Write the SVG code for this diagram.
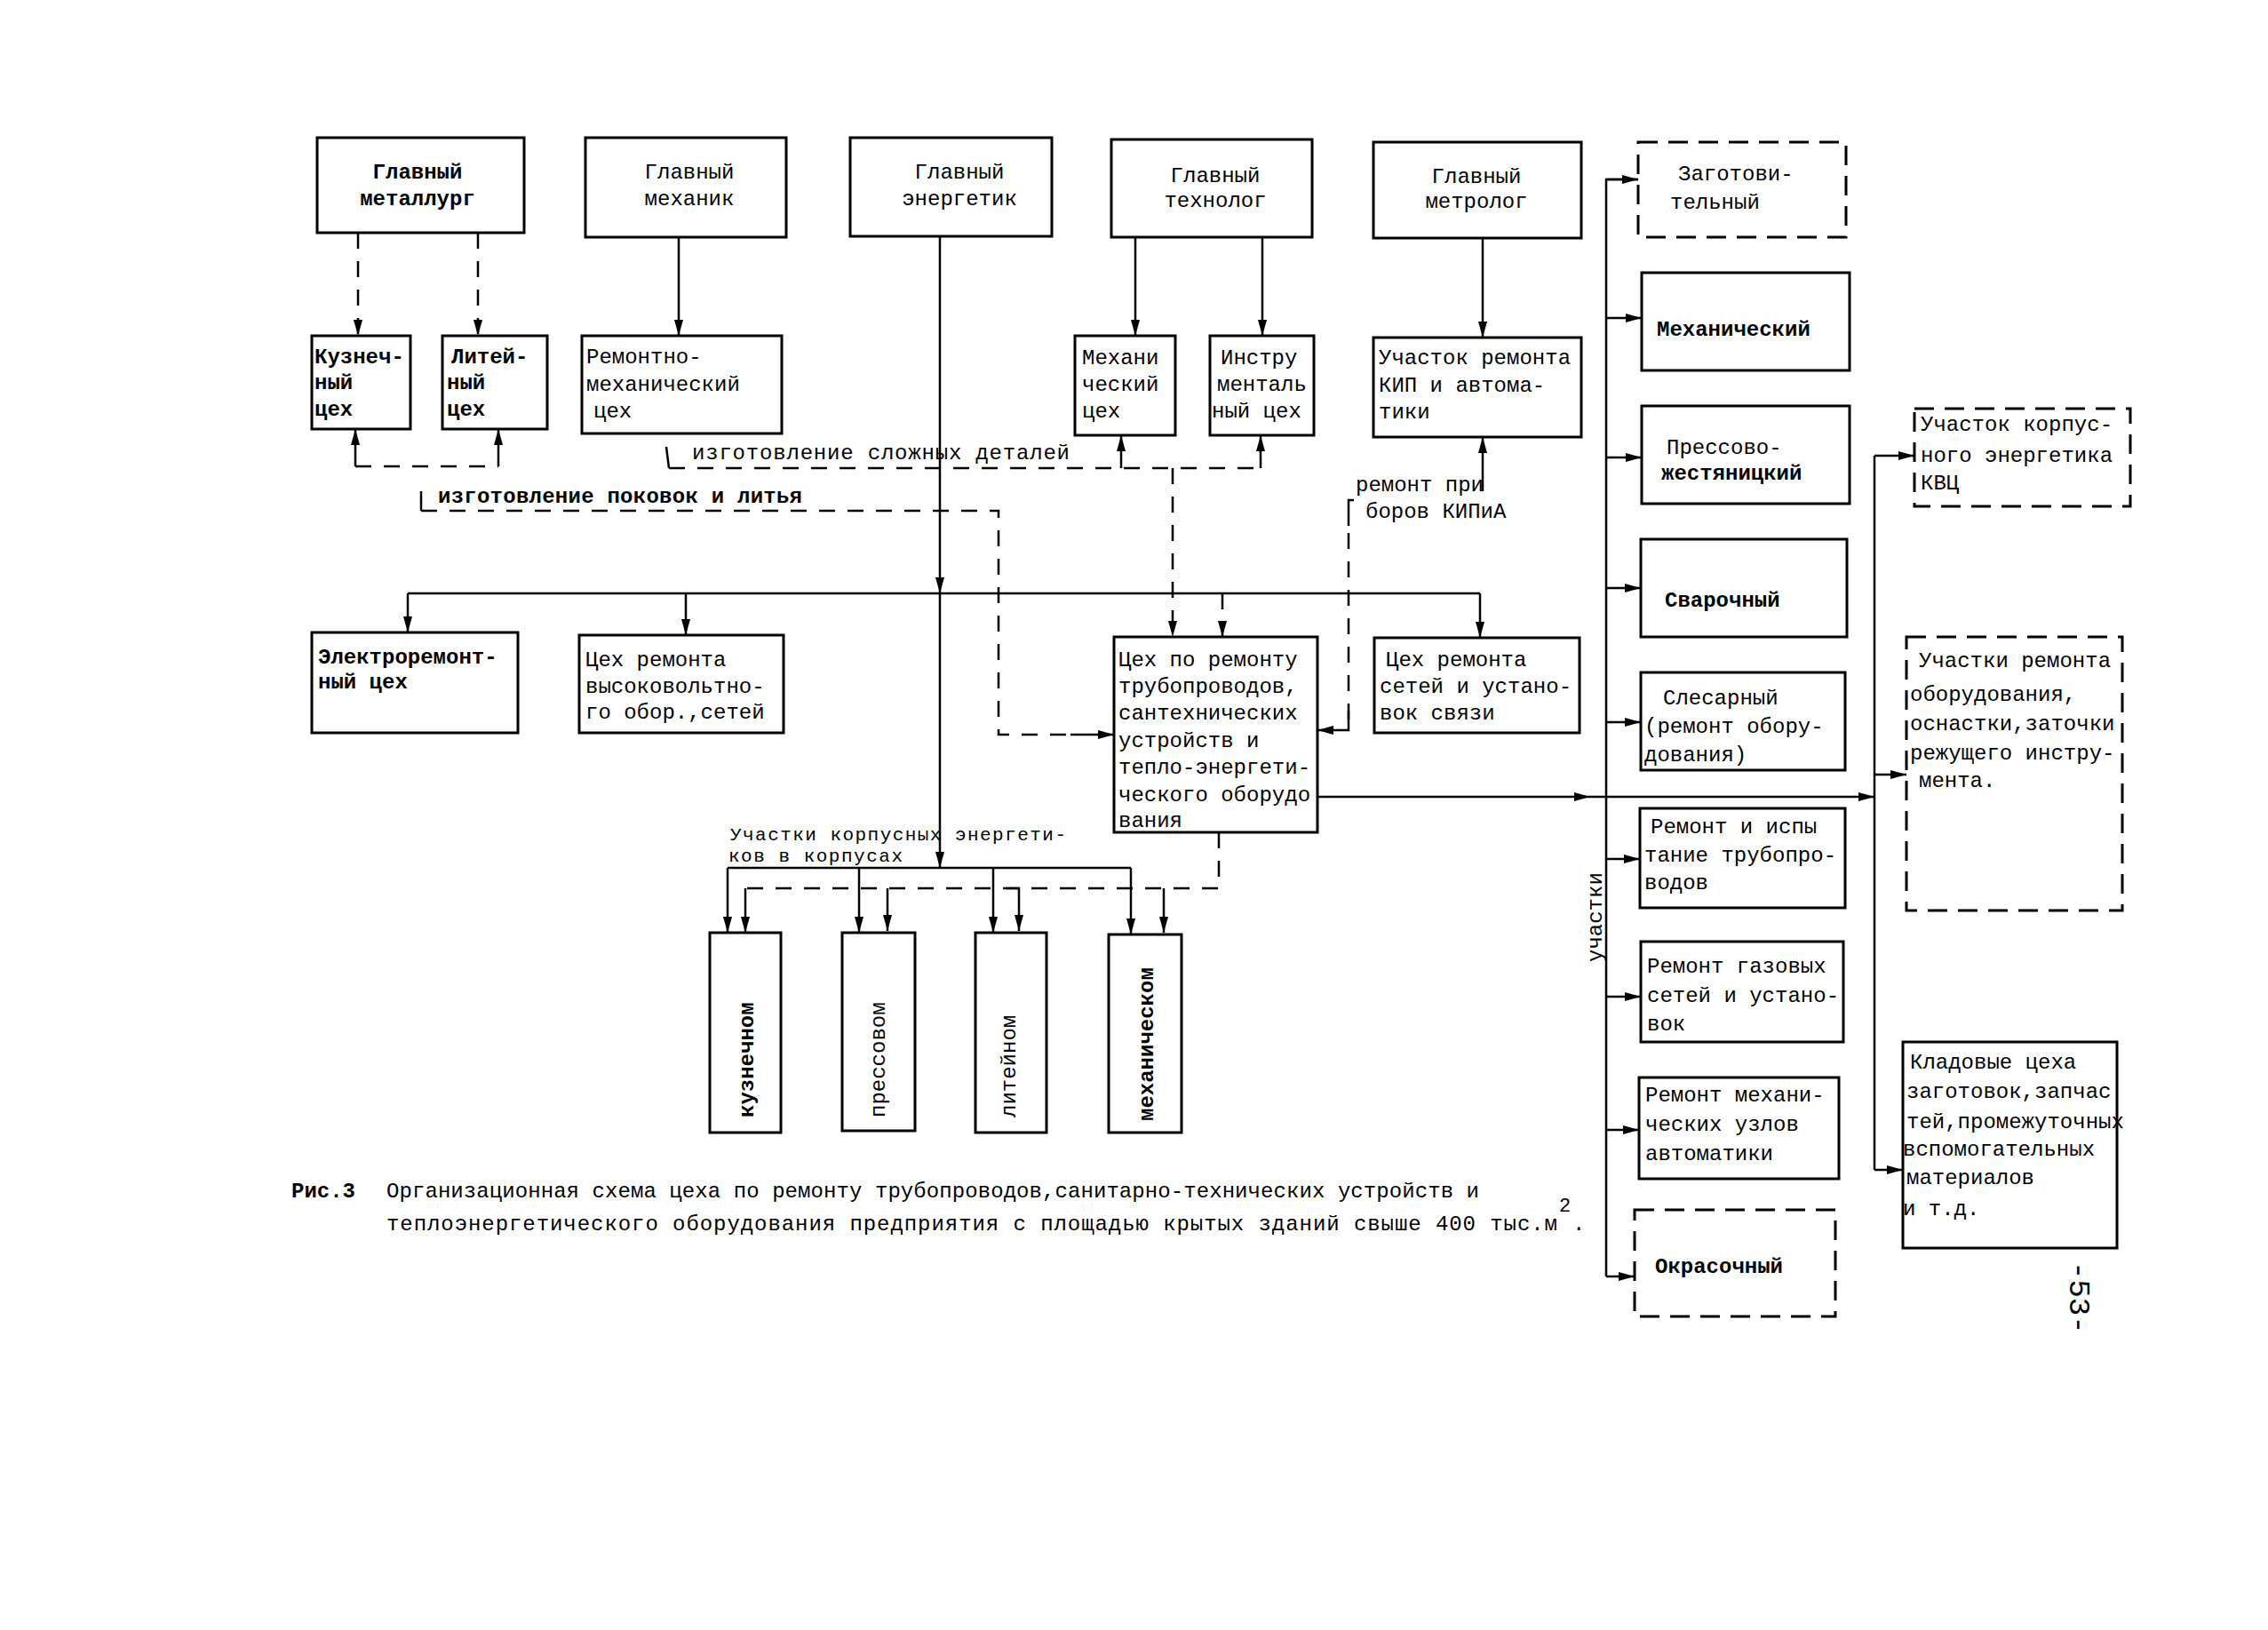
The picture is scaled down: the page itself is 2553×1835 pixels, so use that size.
<svg xmlns="http://www.w3.org/2000/svg" width="2553" height="1835" viewBox="0 0 2553 1835">
<style>
.box{fill:#fff;stroke:#000;stroke-width:3}
.dbox{fill:#fff;stroke:#000;stroke-width:3;stroke-dasharray:22 12}
.ln{fill:none;stroke:#000;stroke-width:2.5}
.dl{fill:none;stroke:#000;stroke-width:2.5;stroke-dasharray:18 14}
text{font-family:"Liberation Mono","DejaVu Sans Mono",monospace;font-size:24px;fill:#000}
.c{text-anchor:middle}
.b{font-weight:bold}
</style>
<defs>
<marker id="a" viewBox="0 0 18 10" refX="18" refY="5" markerWidth="18" markerHeight="10" markerUnits="userSpaceOnUse" orient="auto">
<path d="M0,0 L18,5 L0,10 z" fill="#000"/>
</marker>
</defs>
<rect width="2553" height="1835" fill="#fff"/>

<g id="connectors">
<path class="ln" d="M764,267 V378" marker-end="url(#a)"/>
<path class="ln" d="M1058,266 V668" marker-end="url(#a)"/>
<path class="ln" d="M1058,668 V977" marker-end="url(#a)"/>
<path class="ln" d="M459,668 H1666"/>
<path class="ln" d="M459,668 V712" marker-end="url(#a)"/>
<path class="ln" d="M772,668 V715" marker-end="url(#a)"/>
<path class="ln" d="M1666,668 V718" marker-end="url(#a)"/>
<path class="ln" d="M1278,267 V378" marker-end="url(#a)"/>
<path class="ln" d="M1421,267 V378" marker-end="url(#a)"/>
<path class="ln" d="M1669,268 V380" marker-end="url(#a)"/>
<path class="ln" d="M1669,553 V492" marker-end="url(#a)"/>
<path class="ln" d="M1844,202 H1808 V1437"/>
<path class="ln" d="M1808,202 H1844" marker-end="url(#a)"/>
<path class="ln" d="M1808,358 H1848" marker-end="url(#a)"/>
<path class="ln" d="M1808,515 H1848" marker-end="url(#a)"/>
<path class="ln" d="M1808,662 H1847" marker-end="url(#a)"/>
<path class="ln" d="M1808,813 H1847" marker-end="url(#a)"/>
<path class="ln" d="M1808,967 H1846" marker-end="url(#a)"/>
<path class="ln" d="M1808,1122 H1847" marker-end="url(#a)"/>
<path class="ln" d="M1808,1272 H1845" marker-end="url(#a)"/>
<path class="ln" d="M1808,1437 H1840" marker-end="url(#a)"/>
<path class="ln" d="M1483,897 H1790" marker-end="url(#a)"/>
<path class="ln" d="M1790,897 H2110" marker-end="url(#a)"/>
<path class="ln" d="M2110,513 V1317"/>
<path class="ln" d="M2110,513 H2155" marker-end="url(#a)"/>
<path class="ln" d="M2110,872 H2146" marker-end="url(#a)"/>
<path class="ln" d="M2110,1317 H2142" marker-end="url(#a)"/>
<path class="ln" d="M819,977 H1273"/>
<path class="ln" d="M819,977 V1050" marker-end="url(#a)"/>
<path class="ln" d="M967,977 V1050" marker-end="url(#a)"/>
<path class="ln" d="M1118,977 V1050" marker-end="url(#a)"/>
<path class="ln" d="M1273,977 V1052" marker-end="url(#a)"/>

<path class="dl" d="M403,262 V378" marker-end="url(#a)"/>
<path class="dl" d="M538,262 V378" marker-end="url(#a)"/>
<path class="dl" d="M400,525 H561"/>
<path class="ln" d="M400,525 V483" marker-end="url(#a)"/>
<path class="ln" d="M561,525 V483" marker-end="url(#a)"/>
<path class="dl" d="M753,527 H1419"/>
<path class="ln" d="M753,527 L750,503"/>
<path class="ln" d="M1262,527 V490" marker-end="url(#a)"/>
<path class="ln" d="M1419,527 V490" marker-end="url(#a)"/>
<path class="dl" d="M1320,527 V717" marker-end="url(#a)"/>
<path class="dl" d="M1376,668 V717" marker-end="url(#a)"/>
<path class="ln" d="M474,553 V575"/>
<path class="dl" d="M474,575 H1124 V827 H1210"/>
<path class="ln" d="M1205,827 H1254" marker-end="url(#a)"/>
<path class="ln" d="M1524,563 H1518 V592"/>
<path class="dl" d="M1518,600 V822"/>
<path class="ln" d="M1518,800 V822 H1483" marker-end="url(#a)"/>
<path class="dl" d="M1372,937 V1000 H839"/>
<path class="ln" d="M839,1000 V1050" marker-end="url(#a)"/>
<path class="ln" d="M999,1000 V1048" marker-end="url(#a)"/>
<path class="ln" d="M1133,1000 H1147 V1048" marker-end="url(#a)"/>
<path class="ln" d="M1310,1000 V1050" marker-end="url(#a)"/>
</g>

<g id="labels">
<text x="779" y="517" textLength="425">изготовление сложных деталей</text>
<text x="493" y="566" class="b" textLength="410">изготовление поковок и литья</text>
<text x="1526" y="553">ремонт при</text>
<text x="1537" y="583">боров КИПиА</text>
<text x="822" y="946" style="font-size:21px" textLength="378">Участки корпусных энергети-</text>
<text x="820" y="970" style="font-size:21px" textLength="196">ков в корпусах</text>
<text transform="translate(1803,1083) rotate(-90)">участки</text>
<text x="328" y="1348" class="b">Рис.3</text>
<text x="435" y="1348" textLength="1230">Организационная схема цеха по ремонту трубопроводов,санитарно-технических устройств и</text>
<text x="435" y="1385" textLength="1318">теплоэнергетического оборудования предприятия с площадью крытых зданий свыше 400 тыс.м</text>
<text x="1755" y="1364" style="font-size:22px">2</text>
<text x="1770" y="1385">.</text>
<text transform="translate(2330,1420) rotate(90)" style="font-size:34px">-53-</text>
</g>

<g id="n1"><rect class="box" x="357" y="155" width="233" height="107"/>
<text class="c b" x="470" y="201">Главный</text><text class="c b" x="470" y="231">металлург</text></g>
<g id="n2"><rect class="box" x="659" y="155" width="226" height="112"/>
<text class="c" x="776" y="201">Главный</text><text class="c" x="776" y="231">механик</text></g>
<g id="n3"><rect class="box" x="957" y="155" width="227" height="111"/>
<text class="c" x="1080" y="201">Главный</text><text class="c" x="1080" y="231">энергетик</text></g>
<g id="n4"><rect class="box" x="1251" y="157" width="226" height="110"/>
<text class="c" x="1368" y="205">Главный</text><text class="c" x="1368" y="233">технолог</text></g>
<g id="n5"><rect class="box" x="1546" y="160" width="234" height="108"/>
<text class="c" x="1662" y="206">Главный</text><text class="c" x="1662" y="234">метролог</text></g>

<g id="n6"><rect class="box" x="351" y="378" width="111" height="105"/>
<text class="b" x="354" y="409">Кузнеч-</text><text class="b" x="354" y="438">ный</text><text class="b" x="354" y="468">цех</text></g>
<g id="n7"><rect class="box" x="498" y="378" width="118" height="105"/>
<text class="b" x="508" y="409">Литей-</text><text class="b" x="503" y="438">ный</text><text class="b" x="503" y="468">цех</text></g>
<g id="n8"><rect class="box" x="655" y="378" width="225" height="110"/>
<text x="660" y="409">Ремонтно-</text><text x="660" y="440">механический</text><text x="668" y="470">цех</text></g>
<g id="n9"><rect class="box" x="1210" y="378" width="113" height="112"/>
<text x="1218" y="410">Механи</text><text x="1218" y="440">ческий</text><text x="1218" y="470">цех</text></g>
<g id="n10"><rect class="box" x="1362" y="378" width="117" height="112"/>
<text x="1374" y="410">Инстру</text><text x="1370" y="440">менталь</text><text x="1364" y="470">ный цех</text></g>
<g id="n11"><rect class="box" x="1546" y="380" width="234" height="112"/>
<text x="1552" y="410">Участок ремонта</text><text x="1552" y="441">КИП и автома-</text><text x="1552" y="471">тики</text></g>

<g id="n12"><rect class="box" x="351" y="712" width="232" height="113"/>
<text class="b" x="358" y="747">Электроремонт-</text><text class="b" x="358" y="775">ный цех</text></g>
<g id="n13"><rect class="box" x="652" y="715" width="230" height="110"/>
<text x="659" y="750">Цех ремонта</text><text x="659" y="780">высоковольтно-</text><text x="659" y="809">го обор.,сетей</text></g>
<g id="n14"><rect class="box" x="1254" y="717" width="229" height="220"/>
<text x="1259" y="750">Цех по ремонту</text><text x="1259" y="780">трубопроводов,</text><text x="1259" y="810">сантехнических</text><text x="1259" y="841">устройств и</text><text x="1259" y="871">тепло-энергети-</text><text x="1259" y="902">ческого оборудо</text><text x="1259" y="931">вания</text></g>
<g id="n15"><rect class="box" x="1547" y="718" width="231" height="107"/>
<text x="1560" y="750">Цех ремонта</text><text x="1553" y="780">сетей и устано-</text><text x="1553" y="810">вок связи</text></g>

<g id="n16"><rect class="dbox" x="1844" y="160" width="234" height="107"/>
<text x="1889" y="203">Заготови-</text><text x="1880" y="235">тельный</text></g>
<g id="n17"><rect class="box" x="1848" y="307" width="234" height="110"/>
<text class="b" x="1865" y="378">Механический</text></g>
<g id="n18"><rect class="box" x="1848" y="457" width="234" height="110"/>
<text x="1876" y="511">Прессово-</text><text class="b" x="1870" y="540">жестяницкий</text></g>
<g id="n19"><rect class="box" x="1847" y="607" width="232" height="110"/>
<text class="b" x="1874" y="683">Сварочный</text></g>
<g id="n20"><rect class="box" x="1847" y="757" width="230" height="110"/>
<text x="1872" y="793">Слесарный</text><text x="1851" y="825">(ремонт обору-</text><text x="1851" y="857">дования)</text></g>
<g id="n21"><rect class="box" x="1846" y="910" width="231" height="112"/>
<text x="1858" y="938">Ремонт и испы</text><text x="1851" y="970">тание трубопро-</text><text x="1851" y="1001">водов</text></g>
<g id="n22"><rect class="box" x="1847" y="1060" width="228" height="113"/>
<text x="1854" y="1095">Ремонт газовых</text><text x="1854" y="1128">сетей и устано-</text><text x="1854" y="1160">вок</text></g>
<g id="n23"><rect class="box" x="1845" y="1213" width="225" height="114"/>
<text x="1852" y="1240">Ремонт механи-</text><text x="1852" y="1273">ческих узлов</text><text x="1852" y="1306">автоматики</text></g>
<g id="n24"><rect class="dbox" x="1840" y="1362" width="226" height="120"/>
<text class="b" x="1863" y="1433">Окрасочный</text></g>

<g id="n25"><rect class="dbox" x="2155" y="460" width="243" height="110"/>
<text x="2162" y="485">Участок корпус-</text><text x="2162" y="520">ного энергетика</text><text x="2162" y="551">КВЦ</text></g>
<g id="n26"><rect class="dbox" x="2146" y="717" width="243" height="308"/>
<text x="2160" y="751">Участки ремонта</text><text x="2150" y="789">оборудования,</text><text x="2150" y="822">оснастки,заточки</text><text x="2150" y="855">режущего инстру-</text><text x="2160" y="886">мента.</text></g>
<g id="n27"><rect class="box" x="2142" y="1173" width="241" height="232"/>
<text x="2150" y="1203">Кладовые цеха</text><text x="2146" y="1236">заготовок,запчас</text><text x="2146" y="1270">тей,промежуточных</text><text x="2142" y="1301">вспомогательных</text><text x="2146" y="1333">материалов</text><text x="2142" y="1368">и т.д.</text></g>

<g id="n28"><rect class="box" x="799" y="1050" width="80" height="225"/>
<text class="b" transform="translate(848,1258) rotate(-90)">кузнечном</text></g>
<g id="n29"><rect class="box" x="948" y="1050" width="82" height="223"/>
<text transform="translate(996,1258) rotate(-90)">прессовом</text></g>
<g id="n30"><rect class="box" x="1098" y="1050" width="80" height="225"/>
<text transform="translate(1143,1258) rotate(-90)">литейном</text></g>
<g id="n31"><rect class="box" x="1248" y="1052" width="82" height="223"/>
<text class="b" transform="translate(1298,1262) rotate(-90)">механическом</text></g>
</svg>
